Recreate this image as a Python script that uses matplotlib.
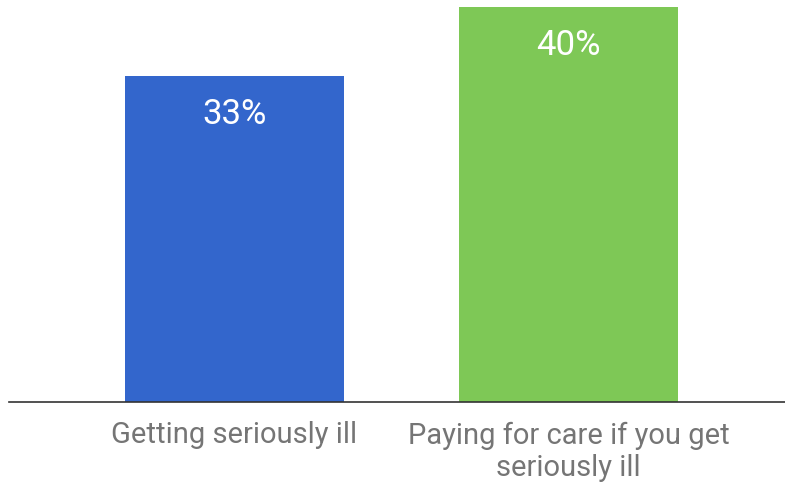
import matplotlib.pyplot as plt

categories = ["Getting seriously ill", "Paying for care if you get\nseriously ill"]
values = [33, 40]
colors = ["#3366CC", "#7EC856"]

plt.rcParams['font.family'] = ['Roboto', 'DejaVu Sans']

fig = plt.figure(figsize=(7.85, 4.84), dpi=100)
ax = fig.add_axes([9/785, 1-402/484, 776/785, 402/484])

x = range(len(values))
bars = ax.bar(x, values, width=0.656, color=colors)
for b, v in zip(bars, values):
    ax.annotate(f"{v}%", (b.get_x() + b.get_width()/2, b.get_height()),
                xytext=(0, -16), textcoords='offset points',
                ha='center', va='top', color='white', fontsize=25)

ax.set_xlim(-0.675, 1.648)
ax.set_ylim(0, 40.7)
ax.set_xticks(list(x))
ax.set_xticklabels(categories, fontsize=21, color='#757575', linespacing=1.22)
ax.tick_params(axis='x', length=0, pad=14)
ax.set_yticks([])
for s in ['top', 'right', 'left']:
    ax.spines[s].set_visible(False)
ax.spines['bottom'].set_color('#333333')
ax.spines['bottom'].set_linewidth(1.2)

fig.savefig("out.png", dpi=100)
